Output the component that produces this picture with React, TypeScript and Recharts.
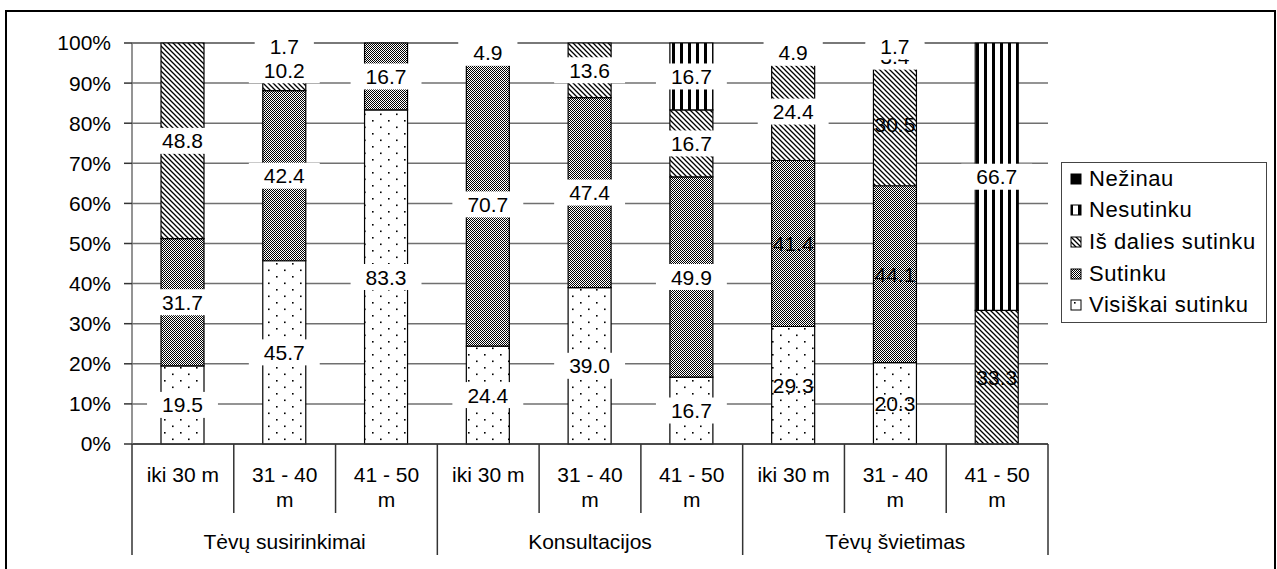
import { BarChart, Bar, XAxis, YAxis, CartesianGrid, Legend, LabelList } from "recharts";

const CATEGORIES = ["iki 30 m", "31 - 40 m", "41 - 50 m", "iki 30 m", "31 - 40 m", "41 - 50 m", "iki 30 m", "31 - 40 m", "41 - 50 m"];
const GROUPS = ["Tėvų susirinkimai", "Konsultacijos", "Tėvų švietimas"];

const VISISKAI = [19.5, 45.7, 83.3, 24.4, 39.0, 16.7, 29.3, 20.3, 0];
const SUTINKU = [31.7, 42.4, 16.7, 70.7, 47.4, 49.9, 41.4, 44.1, 0];
const IS_DALIES = [48.8, 10.2, 0, 4.9, 13.6, 16.7, 24.4, 30.5, 33.3];
const NESUTINKU = [0, 1.7, 0, 0, 0, 16.7, 4.9, 3.4, 66.7];
const NEZINAU = [0, 0, 0, 0, 0, 0, 0, 1.7, 0];

const Y_TICKS = [0, 10, 20, 30, 40, 50, 60, 70, 80, 90, 100];

const W = 1277;
const H = 569;
const MARGIN = { top: 43, right: 229, bottom: 15, left: 0 };
const Y_AXIS_W = 132;
const BAND = (W - MARGIN.left - MARGIN.right - Y_AXIS_W) / CATEGORIES.length;
const FONT = "'Liberation Sans', Arial, sans-serif";

const data = CATEGORIES.map((cat, i) => ({
  cat,
  visiskai: VISISKAI[i],
  sutinku: SUTINKU[i],
  isDalies: IS_DALIES[i],
  nesutinku: NESUTINKU[i],
  nezinau: NEZINAU[i],
}));

// bottom to top
const SERIES = [
  { key: "visiskai", name: "Visiškai sutinku", fill: "url(#pDots)" },
  { key: "sutinku", name: "Sutinku", fill: "url(#pCheck)" },
  { key: "isDalies", name: "Iš dalies sutinku", fill: "url(#pDiag)" },
  { key: "nesutinku", name: "Nesutinku", fill: "url(#pVert)" },
  { key: "nezinau", name: "Nežinau", fill: "#000" },
];

function ValueLabel(props: any) {
  const { x, y, width, height, value, index } = props;
  if (!value) return null;
  const txt = Number(value).toFixed(1);
  const cx = x + width / 2;
  const cy = y + height / 2;
  const tw = txt.replace(".", "").length * 11.7 + 5.8;
  const boxed = index < 6; // white boxes only on first two groups
  return (
    <g>
      {boxed && <rect x={cx - tw / 2 - 15} y={cy - 13} width={tw + 30} height={26} fill="#fff" />}
      <text x={cx} y={cy} dy="0.36em" textAnchor="middle" fontSize={21} fill="#000" fontFamily={FONT}>
        {txt}
      </text>
    </g>
  );
}

function CategoryTick(props: any) {
  const { x, y, payload, index } = props;
  const label = String(payload.value);
  const half = BAND / 2;
  const sp = label.lastIndexOf(" ");
  const lines = label.length > 8 ? [label.slice(0, sp), label.slice(sp + 1)] : [label];
  const groupStart = index % 3 === 0;
  return (
    <g>
      <line x1={x - half} x2={x - half} y1={y} y2={y + (groupStart ? 111 : 69)} stroke="#333" strokeWidth={1.5} />
      {index === CATEGORIES.length - 1 && (
        <line x1={x + half} x2={x + half} y1={y} y2={y + 111} stroke="#333" strokeWidth={1.5} />
      )}
      {lines.map((l, i) => (
        <text key={i} x={x} y={y + 38 + i * 25} textAnchor="middle" fontSize={21} fill="#000" fontFamily={FONT}>
          {l}
        </text>
      ))}
      {index % 3 === 1 && (
        <text x={x} y={y + 105} textAnchor="middle" fontSize={21} fill="#000" fontFamily={FONT}>
          {GROUPS[Math.floor(index / 3)]}
        </text>
      )}
    </g>
  );
}

function LegendBox() {
  const items = [...SERIES].reverse();
  return (
    <div
      style={{
        width: 206,
        height: 161,
        boxSizing: "border-box",
        border: "1.5px solid #444",
        background: "#fff",
        paddingLeft: 8,
        fontFamily: FONT,
      }}
    >
      {items.map((s) => (
        <div key={s.key} style={{ display: "flex", alignItems: "center", height: 31.6, fontSize: 22, letterSpacing: 0.6, color: "#000" }}>
          <svg width={12} height={12} style={{ display: "block", flex: "none" }}>
            <rect x={1} y={1} width={10} height={10} fill={s.fill} stroke="#000" strokeWidth={1} />
          </svg>
          <span style={{ marginLeft: 7, whiteSpace: "nowrap" }}>{s.name}</span>
        </div>
      ))}
    </div>
  );
}

export default function App() {
  return (
    <div style={{ position: "absolute", left: 0, top: 0, width: W, height: H, overflow: "hidden", background: "#fff", fontFamily: FONT }}>
      <div style={{ position: "absolute", left: 5, top: 10, width: 1271, height: 600, border: "2px solid #000", boxSizing: "border-box" }} />
      <div style={{ position: "absolute", left: 0, top: 0 }}>
        <BarChart width={W} height={H} data={data} margin={MARGIN}>
          <defs>
            <pattern id="pDots" width={16} height={13} patternUnits="userSpaceOnUse">
              <rect width={16} height={13} fill="#fff" />
              <rect x={4} y={3} width={1.6} height={1.6} fill="#000" />
              <rect x={12} y={9.5} width={1.6} height={1.6} fill="#000" />
            </pattern>
            <pattern id="pCheck" width={2} height={2} patternUnits="userSpaceOnUse">
              <rect width={2} height={2} fill="#fff" />
              <rect x={0} y={0} width={1} height={1} fill="#000" />
              <rect x={1} y={1} width={1} height={1} fill="#000" />
            </pattern>
            <pattern id="pDiag" width={5} height={5} patternUnits="userSpaceOnUse">
              <rect width={5} height={5} fill="#fff" />
              <path d="M0,0 L5,5 M-1,4 L1,6 M4,-1 L6,1" stroke="#000" strokeWidth={1.3} />
            </pattern>
            <pattern id="pVert" width={8} height={8} patternUnits="userSpaceOnUse">
              <rect width={8} height={8} fill="#fff" />
              <rect x={0} y={0} width={3} height={8} fill="#000" />
            </pattern>
          </defs>
          <CartesianGrid vertical={false} stroke="#707070" strokeWidth={1.5} />
          <XAxis
            dataKey="cat"
            interval={0}
            tickLine={false}
            tickSize={0}
            tickMargin={0}
            height={110}
            axisLine={{ stroke: "#333", strokeWidth: 1.5 }}
            tick={<CategoryTick />}
          />
          <YAxis
            width={Y_AXIS_W}
            domain={[0, 100]}
            ticks={Y_TICKS}
            interval={0}
            tickFormatter={(v) => `${v}%`}
            tickSize={8}
            tickMargin={13}
            axisLine={{ stroke: "#707070", strokeWidth: 1.5 }}
            tickLine={{ stroke: "#333", strokeWidth: 1.5 }}
            tick={{ fill: "#000", fontSize: 21, fontFamily: FONT }}
          />
          <Legend
            layout="vertical"
            align="center"
            verticalAlign="middle"
            content={<LegendBox />}
            wrapperStyle={{ left: 1061, top: 162, width: 206 }}
          />
          {SERIES.map((s) => (
            <Bar
              key={s.key}
              dataKey={s.key}
              name={s.name}
              stackId="a"
              fill={s.fill}
              stroke="#000"
              strokeWidth={1.2}
              barSize={43}
              isAnimationActive={false}
            >
              <LabelList dataKey={s.key} content={<ValueLabel />} />
            </Bar>
          ))}
        </BarChart>
      </div>
    </div>
  );
}
